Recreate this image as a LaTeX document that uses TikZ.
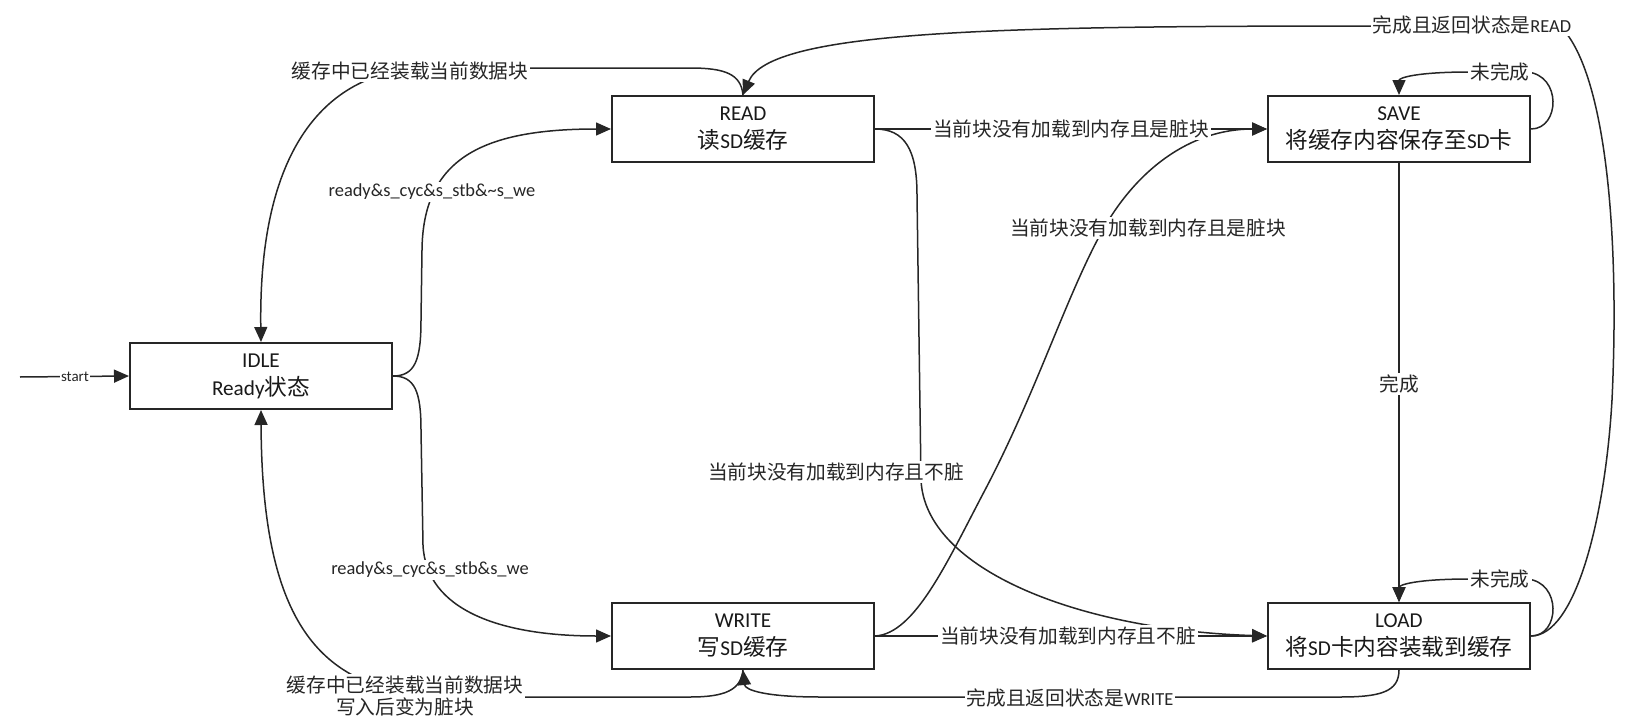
\documentclass[tikz,border=0pt]{standalone}
\usepackage{fontspec}
\setmainfont{Carlito}
\newfontfamily\cjk[Scale=1.07]{Noto Sans CJK SC}
\newcommand\zh[1]{{\cjk #1}}
\usetikzlibrary{arrows.meta}
\begin{document}
\begin{tikzpicture}[x=0.5pt,y=-0.5pt,
  state/.style={draw=black!85, line width=1pt, fill=white, minimum width=131pt, minimum height=33pt,
    inner sep=0pt, align=center, text=black!90, font=\fontsize{10.6}{14}\selectfont},
  edge/.style={draw=black!85, line width=0.75pt},
  arr/.style={edge, -{Triangle[length=7.5pt,width=6.5pt]}},
  lbl/.style={fill=white, inner sep=1pt, text=black!85, align=center, font=\fontsize{9.2}{11}\selectfont},
  startlbl/.style={fill=white, inner sep=0.5pt, text=black!85, font=\fontsize{7.5}{9}\selectfont}
]
\useasboundingbox (0,0) rectangle (1650,728);

% states
\node[state] (idle)  at (261,376)  {IDLE\\Ready\zh{状态}};
\node[state] (read)  at (743,129)  {READ\\\zh{读}SD\zh{缓存}};
\node[state] (write) at (743,636)  {WRITE\\\zh{写}SD\zh{缓存}};
\node[state] (save)  at (1399,129) {SAVE\\\zh{将缓存内容保存至}SD\zh{卡}};
\node[state] (load)  at (1399,636) {LOAD\\\zh{将}SD\zh{卡内容装载到缓存}};
\coordinate (s0) at (20,377);

% connectors
\draw[arr] (s0) -- (idle.west);
\draw[arr] (idle.east) .. controls (415,376) and (421,360) .. (421,320) -- (422,250)
  .. controls (423,160) and (480,129) .. (read.west);
\draw[arr] (idle.east) .. controls (415,376) and (421,392) .. (421,430) -- (423,545)
  .. controls (426,610) and (500,636) .. (write.west);
\draw[arr] (read.north) .. controls (741,74) and (725,68) .. (690,68) -- (430,68)
  .. controls (340,68) and (258,130) .. (idle.south |- idle.north);
\draw[arr] (write.south) .. controls (741,690) and (725,697) .. (690,697) -- (460,697)
  .. controls (330,697) and (262,640) .. (idle.south);
\draw[arr] (read.east) -- (save.west);
\draw[arr] (read.east) .. controls (905,129) and (917,150) .. (917,195) -- (921,480)
  .. controls (925,570) and (1080,630) .. (load.west);
\draw[arr] (write.east) .. controls (915,634) and (947,562) .. (985,490)
  .. controls (1035,395) and (1065,300) .. (1100,235)
  .. controls (1135,170) and (1190,129) .. (save.west);
\draw[arr] (write.east) -- (load.west);
\draw[arr] (save.south) -- (load.north);
\draw[arr] (save.east) .. controls (1560,129) and (1562,75) .. (1527,72) -- (1470,72)
  .. controls (1415,72) and (1399,78) .. (save.north);
\draw[arr] (load.east) .. controls (1560,636) and (1562,582) .. (1527,579) -- (1470,579)
  .. controls (1415,579) and (1399,585) .. (load.north);
\draw[arr] (load.east) .. controls (1575,636) and (1605,520) .. (1612,400)
  .. controls (1620,230) and (1605,70) .. (1560,26) -- (1377,26)
  .. controls (1000,26) and (770,30) .. (read.north);
\draw[arr] (load.south) .. controls (1399,692) and (1380,697) .. (1340,697) -- (820,697)
  .. controls (765,697) and (745,690) .. (write.south);

% labels
\node[startlbl] (lstart) at (75,377) {start};
\node[lbl] (lb) at (432,192) {ready\&s\_cyc\&s\_stb\&\textasciitilde s\_we};
\node[lbl] (lc) at (430,570) {ready\&s\_cyc\&s\_stb\&s\_we};
\node[lbl] (ld) at (410,71) {\zh{缓存中已经装载当前数据块}};
\node[lbl] (le) at (405,696) {\zh{缓存中已经装载当前数据块}\\\zh{写入后变为脏块}};
\node[lbl] (lf) at (1071,129) {\zh{当前块没有加载到内存且是脏块}};
\node[lbl] (lg) at (836,472) {\zh{当前块没有加载到内存且不脏}};
\node[lbl] (lh) at (1148,228) {\zh{当前块没有加载到内存且是脏块}};
\node[lbl] (li) at (1068,636) {\zh{当前块没有加载到内存且不脏}};
\node[lbl] (lj) at (1399,384) {\zh{完成}};
\node[lbl] (lk) at (1500,72) {\zh{未完成}};
\node[lbl] (ll) at (1500,579) {\zh{未完成}};
\node[lbl] (lm) at (1472,25) {\zh{完成且返回状态是}READ};
\node[lbl] (ln) at (1070,698) {\zh{完成且返回状态是}WRITE};
\end{tikzpicture}
\end{document}
